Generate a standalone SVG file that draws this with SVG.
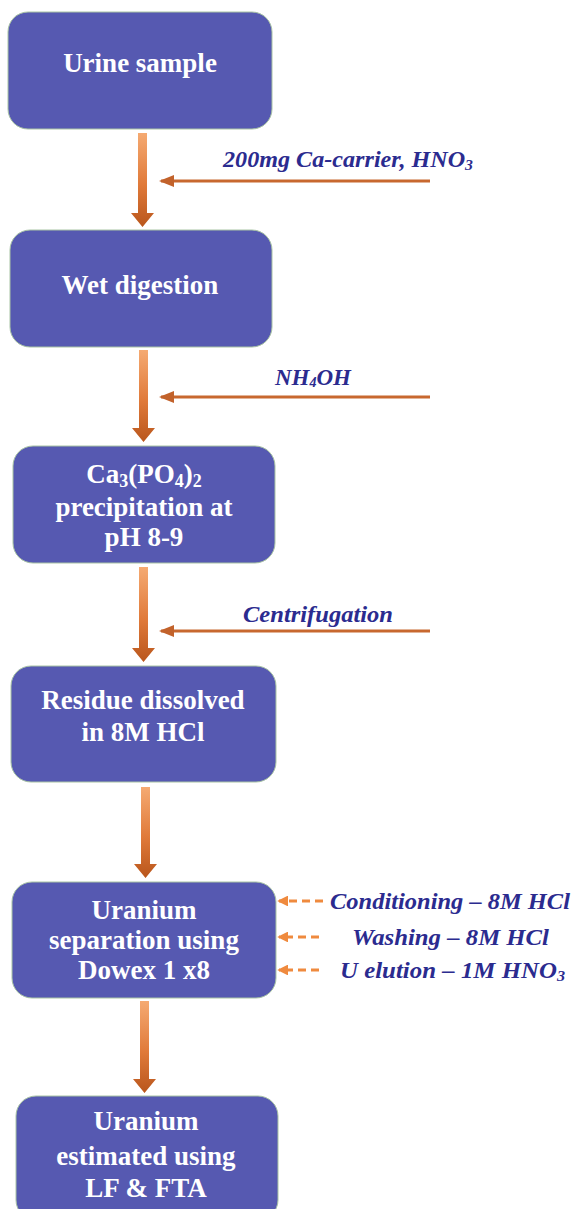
<svg xmlns="http://www.w3.org/2000/svg" width="575" height="1209" viewBox="0 0 575 1209">
  <defs>
    <linearGradient id="flowGrad" x1="0" y1="0" x2="0" y2="1">
      <stop offset="0" stop-color="#f5aa72"/>
      <stop offset="0.55" stop-color="#e07a3a"/>
      <stop offset="1" stop-color="#b9561c"/>
    </linearGradient>
    <marker id="headSolid" viewBox="0 0 15 12" refX="13" refY="6" markerWidth="5" markerHeight="4" orient="auto" markerUnits="strokeWidth">
      <path d="M0,0 L15,6 L0,12 Z" fill="#c2622b"/>
    </marker>
    <marker id="headDash" viewBox="0 0 12 12" refX="10" refY="6" markerWidth="3.6" markerHeight="3.6" orient="auto" markerUnits="strokeWidth">
      <path d="M0,0 L12,6 L0,12 Z" fill="#ef8a3e"/>
    </marker>
  </defs>
  <style>
    .box { fill: #5659b1; stroke: #a9c4a4; stroke-width: 1; }
    .btxt { font-family: "Liberation Serif", "Times New Roman", serif; font-weight: bold; font-size: 27px; fill: #ffffff; text-anchor: middle; }
    .lbl { font-family: "Liberation Serif", "Times New Roman", serif; font-weight: bold; font-style: italic; font-size: 23px; fill: #2b2b8f; }
    .main { fill: url(#flowGrad); }
    .side { stroke: #c8682f; stroke-width: 3; fill: none; }
    .dash { stroke: #ef8a3e; stroke-width: 3; fill: none; stroke-dasharray: 8 5; }
  </style>

  <rect width="575" height="1209" fill="#ffffff"/>

  <g id="connectors">
    <!-- main downward flow arrows -->
    <path class="main" d="M138,133 h9 v80 h7 l-11.5,14 l-11.5,-14 h7 Z"/>
    <path class="main" d="M139,350 h9 v78 h7 l-11.5,14 l-11.5,-14 h7 Z"/>
    <path class="main" d="M139,567 h9 v81 h7 l-11.5,14 l-11.5,-14 h7 Z"/>
    <path class="main" d="M141,787 h9 v77 h7 l-11.5,14 l-11.5,-14 h7 Z"/>
    <path class="main" d="M140,1001 h9 v78 h7 l-11.5,14 l-11.5,-14 h7 Z"/>
    <!-- reagent inputs -->
    <line class="side" x1="430" y1="181" x2="161" y2="181" marker-end="url(#headSolid)"/>
    <line class="side" x1="430" y1="397" x2="161" y2="397" marker-end="url(#headSolid)"/>
    <line class="side" x1="430" y1="631" x2="161" y2="631" marker-end="url(#headSolid)"/>
    <!-- column steps -->
    <line class="dash" x1="323" y1="901" x2="279" y2="901" marker-end="url(#headDash)"/>
    <line class="dash" x1="319" y1="937" x2="279" y2="937" marker-end="url(#headDash)"/>
    <line class="dash" x1="319" y1="970" x2="279" y2="970" marker-end="url(#headDash)"/>
  </g>

  <g id="labels">
    <text class="lbl" x="223" y="167" textLength="250" lengthAdjust="spacingAndGlyphs">200mg Ca-carrier, HNO<tspan font-size="15" dy="3">3</tspan></text>
    <text class="lbl" x="275" y="385" font-size="21">NH<tspan font-size="14" dy="2">4</tspan><tspan dy="-2">OH</tspan></text>
    <text class="lbl" x="243" y="622" textLength="150" lengthAdjust="spacingAndGlyphs">Centrifugation</text>
    <text class="lbl" x="330" y="909" textLength="240" lengthAdjust="spacingAndGlyphs">Conditioning – 8M HCl</text>
    <text class="lbl" x="352" y="945" textLength="197" lengthAdjust="spacingAndGlyphs">Washing – 8M HCl</text>
    <text class="lbl" x="340" y="978" textLength="225" lengthAdjust="spacingAndGlyphs">U elution – 1M HNO<tspan font-size="15" dy="3">3</tspan></text>
  </g>

  <g id="urine-sample">
    <rect class="box" x="8" y="12" width="264" height="117" rx="20"/>
    <text class="btxt" x="140" y="72">Urine sample</text>
  </g>

  <g id="wet-digestion">
    <rect class="box" x="10" y="230" width="262" height="117" rx="20"/>
    <text class="btxt" x="140" y="294">Wet digestion</text>
  </g>

  <g id="precipitation">
    <rect class="box" x="13" y="446" width="262" height="117" rx="20"/>
    <text class="btxt" x="144" y="483">Ca<tspan font-size="18" dy="4">3</tspan><tspan dy="-4">(PO</tspan><tspan font-size="18" dy="4">4</tspan><tspan dy="-4">)</tspan><tspan font-size="18" dy="4">2</tspan></text>
    <text class="btxt" x="144" y="516">precipitation at</text>
    <text class="btxt" x="144" y="546">pH 8-9</text>
  </g>

  <g id="residue">
    <rect class="box" x="11" y="666" width="265" height="116" rx="20"/>
    <text class="btxt" x="143" y="709">Residue dissolved</text>
    <text class="btxt" x="143" y="741">in 8M HCl</text>
  </g>

  <g id="separation">
    <rect class="box" x="12" y="882" width="264" height="116" rx="20"/>
    <text class="btxt" x="144" y="919">Uranium</text>
    <text class="btxt" x="144" y="949">separation using</text>
    <text class="btxt" x="144" y="979">Dowex 1 x8</text>
  </g>

  <g id="estimation">
    <rect class="box" x="16" y="1096" width="262" height="124" rx="20"/>
    <text class="btxt" x="146" y="1130">Uranium</text>
    <text class="btxt" x="146" y="1165">estimated using</text>
    <text class="btxt" x="146" y="1197">LF &amp; FTA</text>
  </g>
</svg>
